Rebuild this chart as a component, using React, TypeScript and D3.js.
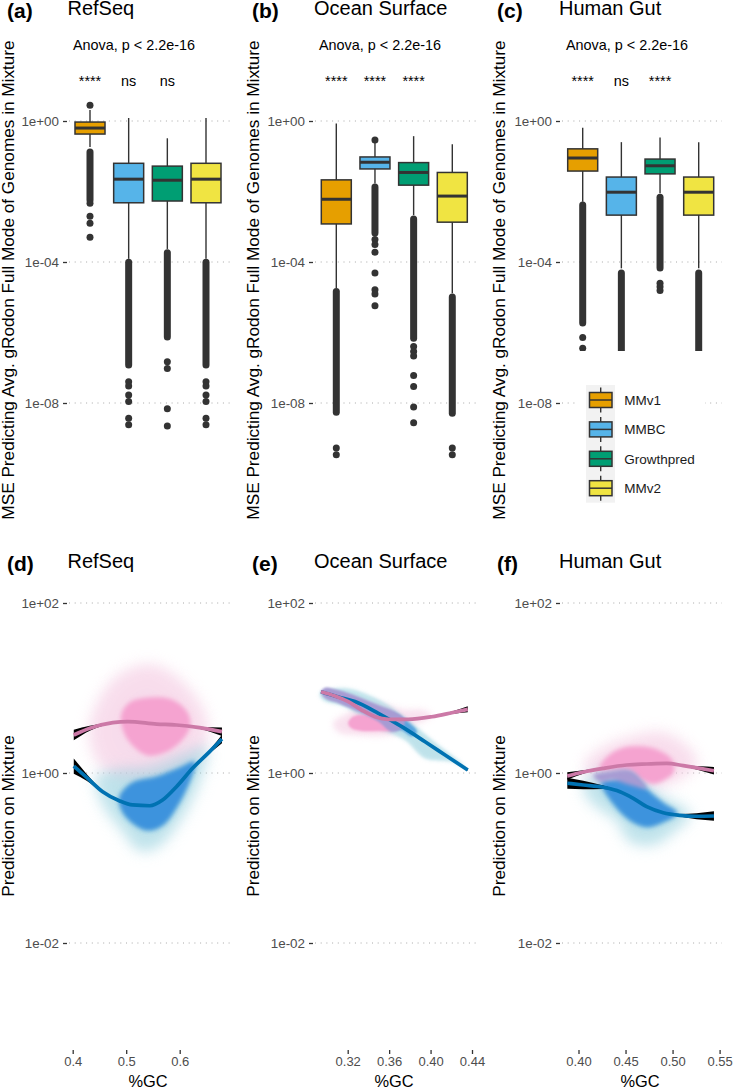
import React, { useEffect, useRef } from 'react'
import * as d3 from 'd3'

// all box values are log10(MSE), all scatter values are [%GC, log10(prediction)]
const methods = ['MMv1', 'MMBC', 'Growthpred', 'MMv2']
const methodColors = ['#E69F00', '#56B4E9', '#009E73', '#F0E442']
const topTickValues = [1, 1e-4, 1e-8]
const topTickLabels = ['1e+00', '1e-04', '1e-08']
const bottomTickValues = [100, 1, 0.01]
const bottomTickLabels = ['1e+02', '1e+00', '1e-02']
const topTitle = 'MSE Predicting Avg. gRodon Full Mode of Genomes in Mixture'
const bottomTitle = 'Prediction on Mixture'
const anovaLabel = 'Anova, p < 2.2e-16'

// RefSeq boxes
const refseqWhiskerHi = [0.31, 0.085, -0.49, 0.085]
const refseqQ3 = [-0.03, -1.2, -1.28, -1.2]
const refseqMedian = [-0.2, -1.65, -1.68, -1.65]
const refseqQ1 = [-0.37, -2.32, -2.27, -2.32]
const refseqWhiskerLo = [-0.74, -3.91, -3.63, -3.91]
const refseqRuns = [
  [-0.88, -2.24],
  [-4.01, -6.92],
  [-3.74, -6.13],
  [-4.01, -6.92],
]
const refseqPoints = [
  [0.45, -2.33, -2.7, -2.9, -3.3],
  [-7.4, -7.52, -7.77, -7.96, -8.43, -8.62],
  [-6.83, -7.02, -8.16, -8.65],
  [-7.4, -7.52, -7.77, -7.96, -8.43, -8.62],
]
const refseqSig = ['****', 'ns', 'ns']

// Ocean Surface boxes
const oceanWhiskerHi = [-0.07, -0.62, -0.43, -0.66]
const oceanQ3 = [-1.67, -1.02, -1.18, -1.46]
const oceanMedian = [-2.22, -1.17, -1.46, -2.13]
const oceanQ1 = [-2.92, -1.36, -1.82, -2.87]
const oceanWhiskerLo = [-4.74, -1.77, -2.67, -4.89]
const oceanRuns = [
  [-4.84, -8.26],
  [-1.87, -3.18],
  [-2.78, -6.16],
  [-4.99, -8.29],
]
const oceanPoints = [
  [-9.28, -9.47],
  [-0.54, -3.36, -3.5, -3.72, -4.31, -4.79, -4.91, -5.24],
  [-6.4, -6.54, -6.67, -7.22, -7.53, -8.11, -8.56],
  [-9.28, -9.47],
]
const oceanSig = ['****', '****', '****']

// Human Gut boxes
const gutWhiskerHi = [-0.19, -0.6, -0.47, -0.6]
const gutQ3 = [-0.79, -1.59, -1.08, -1.59]
const gutMedian = [-1.05, -2.02, -1.27, -2.02]
const gutQ1 = [-1.42, -2.67, -1.5, -2.67]
const gutWhiskerLo = [-2.29, -4.18, -2.05, -4.18]
const gutRuns = [
  [-2.38, -5.73],
  [-4.31, -6.7],
  [-2.16, -4.17],
  [-4.31, -6.7],
]
const gutPoints = [[-6.14, -6.45], [], [-4.6, -4.7, -4.81], []]
const gutSig = ['****', 'ns', '****']

// RefSeq scatter outlines and smooths
const refseqPinkHaze = [
  [0.432, 0.447], [0.45, 0.859], [0.488, 1.153], [0.544, 1.271], [0.6, 1.094],
  [0.647, 0.682], [0.647, 0.329], [0.6, 0.035], [0.525, -0.082], [0.46, 0.035],
]
const refseqPinkCore = [
  [0.4916, 0.682], [0.5065, 0.824], [0.544, 0.882], [0.585, 0.859], [0.613, 0.718], [0.619, 0.553],
  [0.6, 0.365], [0.572, 0.247], [0.54, 0.212], [0.516, 0.306], [0.497, 0.471],
]
const refseqBlueHaze = [
  [0.445, -0.047], [0.482, 0.035], [0.544, 0.071], [0.613, 0.235], [0.65, 0.306], [0.637, -0.082],
  [0.6, -0.553], [0.557, -0.871], [0.525, -0.906], [0.493, -0.671], [0.456, -0.353],
]
const refseqBlueCore = [
  [0.488, -0.282], [0.512, -0.118], [0.557, -0.047], [0.6, 0.059], [0.628, 0.129], [0.619, -0.082],
  [0.594, -0.4], [0.568, -0.612], [0.54, -0.671], [0.51, -0.576], [0.492, -0.435],
]
const refseqPinkGc = [0.402, 0.432, 0.475, 0.503, 0.557, 0.594, 0.637, 0.679]
const refseqPinkFit = [0.447, 0.526, 0.592, 0.604, 0.576, 0.565, 0.533, 0.486]
const refseqPinkSe = [0.063, 0.03, 0.006, 0.004, 0.004, 0.004, 0.012, 0.05]
const refseqBlueGc = [0.402, 0.426, 0.456, 0.488, 0.512, 0.544, 0.568, 0.594, 0.624, 0.656, 0.679]
const refseqBlueFit = [0.082, -0.051, -0.22, -0.329, -0.376, -0.385, -0.318, -0.161, 0.055, 0.251, 0.4]
const refseqBlueSe = [0.09, 0.04, 0.012, 0.006, 0.005, 0.005, 0.005, 0.006, 0.008, 0.02, 0.05]

// Ocean Surface scatter outlines and smooths
const oceanPinkHaze = [
  [0.3061, 0.585], [0.3174, 0.682], [0.3432, 0.82], [0.3754, 0.741], [0.3915, 0.741],
  [0.4012, 0.682], [0.3754, 0.526], [0.3592, 0.447], [0.3302, 0.447], [0.3109, 0.486],
]
const oceanPinkCore = [
  [0.3206, 0.585], [0.3254, 0.662], [0.3367, 0.682], [0.3496, 0.644], [0.3592, 0.585],
  [0.3625, 0.506], [0.3496, 0.498], [0.3335, 0.498], [0.3239, 0.526],
]
const oceanBlueHaze = [
  [0.2932, 0.938], [0.3174, 0.996], [0.356, 0.82], [0.3819, 0.585], [0.4012, 0.388], [0.4333, 0.074],
  [0.4205, 0.133], [0.3947, 0.173], [0.3754, 0.388], [0.3496, 0.526], [0.3174, 0.78], [0.2964, 0.859],
]
const oceanBlueCore = [
  [0.3625, 0.702], [0.3754, 0.624], [0.3867, 0.486], [0.3819, 0.435], [0.3722, 0.506], [0.3625, 0.526],
]
const oceanOverlap = [
  [0.2942, 0.956], [0.2981, 1.004], [0.3109, 0.976], [0.3302, 0.898], [0.3496, 0.8], [0.3657, 0.721],
  [0.3754, 0.624], [0.3722, 0.526], [0.3625, 0.486], [0.3496, 0.604], [0.3302, 0.721], [0.3109, 0.82],
  [0.2981, 0.879],
]
const oceanPinkGc = [0.2942, 0.3077, 0.3206, 0.3335, 0.3464, 0.3592, 0.3785, 0.4012, 0.4205, 0.4359]
const oceanPinkFit = [0.956, 0.906, 0.839, 0.741, 0.662, 0.632, 0.632, 0.662, 0.709, 0.749]
const oceanPinkSe = [0.004, 0.004, 0.004, 0.004, 0.004, 0.004, 0.004, 0.005, 0.015, 0.035]
const oceanBlueGc = [0.2942, 0.3109, 0.327, 0.3496, 0.3722, 0.3947, 0.414, 0.4359]
const oceanBlueFit = [0.956, 0.895, 0.84, 0.702, 0.545, 0.368, 0.212, 0.035]
const oceanBlueSe = [0.004, 0.004, 0.004, 0.004, 0.004, 0.004, 0.004, 0.008]

// Human Gut scatter outlines and smooths
const gutPinkHaze = [
  [0.4069, 0.094], [0.4228, 0.271], [0.4582, 0.427], [0.4901, 0.467], [0.5185, 0.271],
  [0.5256, 0.114], [0.5044, -0.082], [0.476, -0.161], [0.4476, -0.082], [0.4157, -0.062],
]
const gutPinkCore = [
  [0.4228, 0.055], [0.4335, 0.212], [0.4476, 0.291], [0.4654, 0.309], [0.4831, 0.271], [0.499, 0.153],
  [0.5007, 0.015], [0.4901, -0.082], [0.4795, -0.121], [0.4654, -0.062], [0.4547, 0.035],
]
const gutBlueHaze = [
  [0.4051, -0.161], [0.4157, -0.024], [0.4547, 0.035], [0.4831, -0.239], [0.5185, -0.494],
  [0.5044, -0.651], [0.4795, -0.839], [0.4547, -0.8], [0.4406, -0.553], [0.4157, -0.357],
]
const gutBlueCore = [
  [0.4247, -0.102], [0.437, -0.082], [0.4547, -0.024], [0.4689, -0.161], [0.4901, -0.357],
  [0.5044, -0.474], [0.4901, -0.574], [0.4725, -0.632], [0.4547, -0.553], [0.437, -0.357],
]
const gutOverlap = [
  [0.4157, -0.024], [0.43, 0.015], [0.4547, 0.035], [0.4654, -0.062], [0.4725, -0.18],
  [0.4547, -0.141], [0.437, -0.082], [0.4228, -0.102],
]
const gutPinkGc = [0.3881, 0.4051, 0.4264, 0.4512, 0.4725, 0.4937, 0.5114, 0.5291, 0.544]
const gutPinkFit = [-0.035, 0.012, 0.055, 0.094, 0.106, 0.114, 0.086, 0.055, 0.027]
const gutPinkSe = [0.045, 0.02, 0.006, 0.004, 0.004, 0.004, 0.006, 0.025, 0.045]
const gutBlueGc = [0.3881, 0.4051, 0.4264, 0.4441, 0.4582, 0.4725, 0.4901, 0.5079, 0.5256, 0.544]
const gutBlueFit = [-0.121, -0.141, -0.168, -0.22, -0.298, -0.396, -0.467, -0.498, -0.509, -0.506]
const gutBlueSe = [0.065, 0.05, 0.02, 0.006, 0.004, 0.004, 0.004, 0.015, 0.035, 0.055]

const boxPanels = [
  { letter: '(a)', title: 'RefSeq', hi: refseqWhiskerHi, q3: refseqQ3, med: refseqMedian, q1: refseqQ1, lo: refseqWhiskerLo, runs: refseqRuns, points: refseqPoints, sig: refseqSig },
  { letter: '(b)', title: 'Ocean Surface', hi: oceanWhiskerHi, q3: oceanQ3, med: oceanMedian, q1: oceanQ1, lo: oceanWhiskerLo, runs: oceanRuns, points: oceanPoints, sig: oceanSig },
  { letter: '(c)', title: 'Human Gut', hi: gutWhiskerHi, q3: gutQ3, med: gutMedian, q1: gutQ1, lo: gutWhiskerLo, runs: gutRuns, points: gutPoints, sig: gutSig },
]

const scatterPanels = [
  {
    letter: '(d)', title: 'RefSeq', domain: [0.4, 0.6], ticks: [0.4, 0.5, 0.6], fmt: '.1f',
    pinkHaze: refseqPinkHaze, blueHaze: refseqBlueHaze, pinkCore: refseqPinkCore, blueCore: refseqBlueCore, overlap: [],
    pink: [refseqPinkGc, refseqPinkFit, refseqPinkSe], blue: [refseqBlueGc, refseqBlueFit, refseqBlueSe],
  },
  {
    letter: '(e)', title: 'Ocean Surface', domain: [0.32, 0.44], ticks: [0.32, 0.36, 0.4, 0.44], fmt: '.2f',
    pinkHaze: oceanPinkHaze, blueHaze: oceanBlueHaze, pinkCore: oceanPinkCore, blueCore: oceanBlueCore, overlap: oceanOverlap,
    pink: [oceanPinkGc, oceanPinkFit, oceanPinkSe], blue: [oceanBlueGc, oceanBlueFit, oceanBlueSe],
  },
  {
    letter: '(f)', title: 'Human Gut', domain: [0.4, 0.55], ticks: [0.4, 0.45, 0.5, 0.55], fmt: '.2f',
    pinkHaze: gutPinkHaze, blueHaze: gutBlueHaze, pinkCore: gutPinkCore, blueCore: gutBlueCore, overlap: gutOverlap,
    pink: [gutPinkGc, gutPinkFit, gutPinkSe], blue: [gutBlueGc, gutBlueFit, gutBlueSe],
  },
]

// layout, one entry per column
const labelX = [7, 252, 497]
const titleX = [67.5, 314, 559]
const anovaX = [73, 319, 566]
const axisTitleX = [14, 259, 505]
const axisX = [67, 313, 560]
const gridEnd = [230, 477, 722]
const boxCenters = [[90, 206], [336.3, 452.3], [582.7, 698.7]]
const scatterRange = [[72.7, 179.7], [347.7, 472], [578.5, 719.6]]
const gcLabelX = [148, 394, 640]

const FONT = '"Liberation Sans", Arial, sans-serif'
const INK = '#333333'

const App: React.FC = () => {
  const svgRef = useRef<SVGSVGElement>(null)

  useEffect(() => {
    if (!svgRef.current) return
    const svg = d3.select(svgRef.current)
    svg.selectAll('*').remove()
    svg.attr('font-family', FONT)

    const defs = svg.append('defs')
    ;[1, 2, 3, 4, 6, 9].forEach((b) => {
      defs
        .append('filter')
        .attr('id', `blur${b}`)
        .attr('x', '-60%')
        .attr('y', '-60%')
        .attr('width', '220%')
        .attr('height', '220%')
        .append('feGaussianBlur')
        .attr('stdDeviation', b)
    })
    // the gut outliers stop flat, as if cut off by the plot limits
    defs
      .append('clipPath')
      .attr('id', 'gutClip')
      .append('rect')
      .attr('x', 560)
      .attr('y', 100)
      .attr('width', 170)
      .attr('height', 251)

    const yTop = d3.scaleLog().domain([1, 1e-8]).range([121, 403])
    const yBottom = d3.scaleLog().domain([100, 0.01]).range([603, 943])
    const e10 = (v: number) => Math.pow(10, v)

    const drawYAxis = (col: number, scale: any, values: number[], labels: string[]) => {
      const x0 = axisX[col]
      const axis = d3
        .axisLeft(scale)
        .tickValues(values)
        .tickSize(4)
        .tickPadding(4)
        .tickFormat((_d: any, i: number) => labels[i])
      const g = svg.append('g').attr('transform', `translate(${x0},0)`).call(axis as any)
      g.select('.domain').remove()
      g.selectAll('.tick line').attr('stroke', INK).attr('stroke-width', 1.3)
      g.selectAll('.tick text').attr('fill', '#4D4D4D').attr('font-size', 13.4).attr('font-family', FONT)
      // dotted major grid
      svg
        .append('g')
        .selectAll('line')
        .data(values)
        .enter()
        .append('line')
        .attr('x1', x0 + 2)
        .attr('x2', gridEnd[col])
        .attr('y1', (d) => scale(d))
        .attr('y2', (d) => scale(d))
        .attr('stroke', '#A8A8A8')
        .attr('stroke-width', 1)
        .attr('stroke-dasharray', '1 4.7')
    }

    const drawHeading = (col: number, letter: string, title: string, base: number) => {
      svg
        .append('text')
        .attr('x', labelX[col])
        .attr('y', base + 2.5)
        .attr('font-size', 21)
        .attr('font-weight', 'bold')
        .attr('fill', '#000')
        .text(letter)
      svg.append('text').attr('x', titleX[col]).attr('y', base).attr('font-size', 20).attr('fill', '#000').text(title)
    }

    const drawAxisTitle = (col: number, text: string, center: number, size: number) => {
      svg
        .append('text')
        .attr('transform', `translate(${axisTitleX[col]},${center}) rotate(-90)`)
        .attr('text-anchor', 'middle')
        .attr('font-size', size)
        .attr('fill', '#000')
        .text(text)
    }

    // Boxplots
    boxPanels.forEach((p, col) => {
      const x = d3.scalePoint<string>().domain(methods).range(boxCenters[col] as [number, number])
      drawYAxis(col, yTop, topTickValues, topTickLabels)
      drawHeading(col, p.letter, p.title, 15)
      drawAxisTitle(col, topTitle, 280, 17.2)

      svg.append('text').attr('x', anovaX[col]).attr('y', 50).attr('font-size', 14.4).attr('fill', '#000').text(anovaLabel)
      p.sig.forEach((s, i) => {
        svg
          .append('text')
          .attr('x', x(methods[i]) as number)
          .attr('y', 86)
          .attr('text-anchor', 'middle')
          .attr('font-size', 14.4)
          .attr('fill', '#000')
          .text(s)
      })

      const g = svg.append('g')
      methods.forEach((m, i) => {
        const cx = x(m) as number
        const outliers = g.append('g')
        if (col === 2) outliers.attr('clip-path', 'url(#gutClip)')
        outliers
          .append('line')
          .attr('x1', cx)
          .attr('x2', cx)
          .attr('y1', yTop(e10(p.runs[i][0])))
          .attr('y2', yTop(e10(p.runs[i][1])))
          .attr('stroke', INK)
          .attr('stroke-width', 7)
          .attr('stroke-linecap', 'round')
        outliers
          .selectAll('circle')
          .data(p.points[i])
          .enter()
          .append('circle')
          .attr('cx', cx)
          .attr('cy', (d) => yTop(e10(d)))
          .attr('r', 3.5)
          .attr('fill', INK)
        g.append('line')
          .attr('x1', cx)
          .attr('x2', cx)
          .attr('y1', yTop(e10(p.hi[i])))
          .attr('y2', yTop(e10(p.lo[i])))
          .attr('stroke', INK)
          .attr('stroke-width', 1.4)
        const boxTop = yTop(e10(p.q3[i]))
        g.append('rect')
          .attr('x', cx - 15)
          .attr('y', boxTop)
          .attr('width', 30)
          .attr('height', yTop(e10(p.q1[i])) - boxTop)
          .attr('fill', methodColors[i])
          .attr('stroke', INK)
          .attr('stroke-width', 1.5)
        g.append('line')
          .attr('x1', cx - 15)
          .attr('x2', cx + 15)
          .attr('y1', yTop(e10(p.med[i])))
          .attr('y2', yTop(e10(p.med[i])))
          .attr('stroke', INK)
          .attr('stroke-width', 3)
      })
    })

    // Legend sits in the third panel on its own white backing
    const legend = svg.append('g')
    legend.append('rect').attr('x', 578).attr('y', 380).attr('width', 127).attr('height', 130).attr('fill', '#fff')
    legend.append('rect').attr('x', 586).attr('y', 385).attr('width', 29).attr('height', 117.7).attr('fill', '#F2F2F2')
    const legendY = d3.scalePoint<string>().domain(methods).range([400, 488.2])
    methods.forEach((m, i) => {
      const cy = legendY(m) as number
      legend
        .append('line')
        .attr('x1', 600.7)
        .attr('x2', 600.7)
        .attr('y1', cy - 12.5)
        .attr('y2', cy + 12.5)
        .attr('stroke', INK)
        .attr('stroke-width', 1.4)
      legend
        .append('rect')
        .attr('x', 589.5)
        .attr('y', cy - 7.5)
        .attr('width', 22.5)
        .attr('height', 15)
        .attr('fill', methodColors[i])
        .attr('stroke', INK)
        .attr('stroke-width', 1.5)
      legend
        .append('line')
        .attr('x1', 589.5)
        .attr('x2', 612)
        .attr('y1', cy)
        .attr('y2', cy)
        .attr('stroke', INK)
        .attr('stroke-width', 1.5)
      legend
        .append('text')
        .attr('x', 624.3)
        .attr('y', cy + 4.8)
        .attr('font-size', 13.5)
        .attr('fill', '#1A1A1A')
        .text(m)
    })

    // Scatter panels
    scatterPanels.forEach((p, col) => {
      const x = d3.scaleLinear().domain(p.domain).range(scatterRange[col])
      drawYAxis(col, yBottom, bottomTickValues, bottomTickLabels)
      drawHeading(col, p.letter, p.title, 568)
      drawAxisTitle(col, bottomTitle, 816, 17.2)

      const blob = d3
        .line<number[]>()
        .x((d) => x(d[0]))
        .y((d) => yBottom(e10(d[1])))
        .curve(d3.curveCatmullRomClosed.alpha(0.5))
      const addBlob = (pts: number[][], fill: string, opacity: number, blur: number) => {
        if (!pts.length) return
        svg
          .append('path')
          .attr('d', blob(pts))
          .attr('fill', fill)
          .attr('opacity', opacity)
          .attr('filter', `url(#blur${blur})`)
      }
      // very soft haze, then a tighter fringe, then the saturated core
      const narrow = col === 1
      addBlob(p.pinkHaze, '#F5CFE4', narrow ? 0.4 : 0.4, narrow ? 4 : 9)
      addBlob(p.blueHaze, '#A9D9E4', narrow ? 0.55 : 0.4, narrow ? 2 : 9)
      addBlob(p.pinkHaze, '#F3C2DE', narrow ? 0.25 : 0.35, narrow ? 2 : 6)
      addBlob(p.blueHaze, '#8FCEDC', narrow ? 0.25 : 0.38, narrow ? 1 : 6)
      addBlob(p.pinkCore, '#F7B7DA', 0.6, narrow ? 2 : 3)
      addBlob(p.blueCore, '#5FAFD9', narrow ? 0.4 : 0.7, narrow ? 2 : 3)
      addBlob(p.pinkCore, '#F5A3D0', 1, narrow ? 1 : 2)
      addBlob(p.blueCore, '#3D93DD', narrow ? 0.7 : 1, narrow ? 1 : 2)
      addBlob(p.overlap, '#A79BD3', 1, narrow ? 1 : 2)

      const drawSmooth = (fit: number[][], color: string) => {
        const [gc, y, se] = fit
        const idx = d3.range(gc.length)
        const band = d3
          .area<number>()
          .x((i) => x(gc[i]))
          .y0((i) => yBottom(e10(y[i] - se[i])))
          .y1((i) => yBottom(e10(y[i] + se[i])))
          .curve(d3.curveMonotoneX)
        const line = d3
          .line<number>()
          .x((i) => x(gc[i]))
          .y((i) => yBottom(e10(y[i])))
          .curve(d3.curveMonotoneX)
        svg.append('path').attr('d', band(idx)).attr('fill', '#000')
        svg
          .append('path')
          .attr('d', line(idx))
          .attr('fill', 'none')
          .attr('stroke', color)
          .attr('stroke-width', 3.7)
      }
      drawSmooth(p.blue, '#0072B2')
      drawSmooth(p.pink, '#CC79A7')

      const axis = d3
        .axisBottom(x)
        .tickValues(p.ticks)
        .tickSize(4)
        .tickPadding(3)
        .tickFormat(d3.format(p.fmt) as any)
      const gx = svg.append('g').attr('transform', 'translate(0,1050)').call(axis as any)
      gx.select('.domain').remove()
      gx.selectAll('.tick line').attr('stroke', INK).attr('stroke-width', 1.3)
      gx.selectAll('.tick text').attr('fill', '#4D4D4D').attr('font-size', 13).attr('font-family', FONT)

      svg
        .append('text')
        .attr('x', gcLabelX[col])
        .attr('y', 1087)
        .attr('text-anchor', 'middle')
        .attr('font-size', 16.4)
        .attr('fill', '#000')
        .text('%GC')
    })
  }, [])

  return (
    <svg
      ref={svgRef}
      width={733}
      height={1089}
      style={{ position: 'absolute', left: 0, top: 0, display: 'block', background: '#fff' }}
    />
  )
}

export default App
